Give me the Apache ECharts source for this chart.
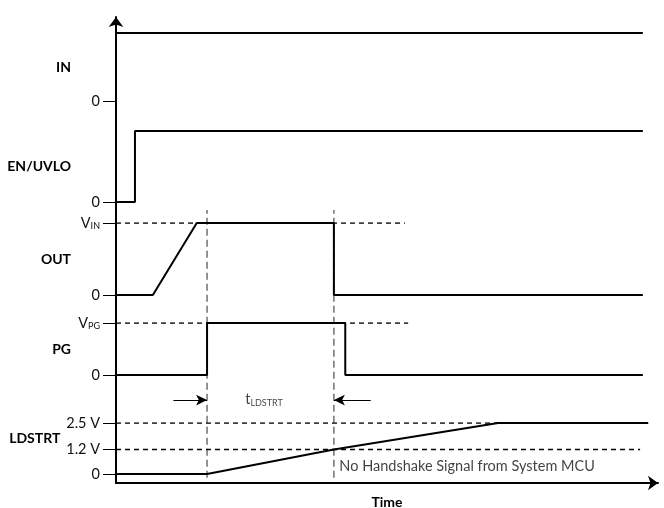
<!DOCTYPE html>
<html>
<head>
<meta charset="utf-8">
<script src="https://cdn.jsdelivr.net/npm/echarts@6/dist/echarts.min.js"></script>
<style>html,body{margin:0;padding:0;background:#fff}#chart{width:664px;height:508px}</style>
</head>
<body>
<div id="chart"></div>
<script>
// time in arbitrary units, 0..100 across the plot
const timeMax = 100;

// signal waveforms (time, level)
const inTime = [0, 97.2];
const inLevel = [1, 1];
const enTime = [0, 3.5, 3.5, 97.2];
const enLevel = [0, 0, 1, 1];
const outTime = [0, 6.8, 14.9, 40.2, 40.2, 97.2];
const outLevel = [0, 0, 1, 1, 0, 0];
const pgTime = [0, 16.8, 16.8, 42.3, 42.3, 97.2];
const pgLevel = [0, 0, 1, 1, 0, 0];
const ldTime = [0, 16.8, 40.2, 70.5, 98.2];
const ldVolts = [0, 0, 1.2, 2.5, 2.5];

// dashed reference levels: [level, end time]
const outRef = [[1, 53.3]];
const pgRef = [[1, 53.9]];
const ldRef = [[2.5, 70.5], [1.2, 96.7]];

// vertical guides (time) spanning the overview axis 0..100
const guideTimes = [16.8, 40.2];
const guideSpan = [1.1, 58.6];

// t_LDSTRT arrows: [from, to] in time, at overview height
const arrowY = 17.8;
const arrows = [[10.6, 16.8], [47.0, 40.2]];

const names = ['IN', 'EN/UVLO', 'OUT', 'PG', 'LDSTRT'];

const pair = (xs, ys) => xs.map((x, i) => [x, ys[i]]);
const font = 'Lato';

const panelGrids = [
  {top: 33, bottom: 407},
  {top: 131, bottom: 306},
  {top: 223, bottom: 213},
  {top: 323, bottom: 133},
  {top: 423, bottom: 34}
];

const tickSets = [[0], [0], [0, 1], [0, 1], [0, 1.2, 2.5]];
const tickText = [
  v => '0',
  v => '0',
  v => v === 1 ? 'V{s|IN}' : '0',
  v => v === 1 ? 'V{s|PG}' : '0',
  v => v === 0 ? '0' : v.toFixed(1) + ' V'
];
const yMax = [1, 1, 1, 1, 2.5];

let grid = [{left: 116, right: 6, top: 17, bottom: 25, outerBoundsMode: 'none'}];
let xAxis = [{
  type: 'value', gridIndex: 0, min: 0, max: timeMax,
  axisLine: {show: true, lineStyle: {color: '#000', width: 2}, symbol: ['none', 'arrow'], symbolSize: [11, 10]},
  axisTick: {show: false}, axisLabel: {show: false}, splitLine: {show: false},
  name: 'Time', nameLocation: 'middle', nameGap: 12,
  nameTextStyle: {fontFamily: font, fontWeight: 'bold', fontSize: 14, color: '#000'}
}];
let yAxis = [{
  type: 'value', gridIndex: 0, min: 0, max: 100,
  axisLine: {show: true, lineStyle: {color: '#000', width: 2}, symbol: ['none', 'arrow'], symbolSize: [11, 10]},
  axisTick: {show: false}, axisLabel: {show: false}, splitLine: {show: false}
}];

names.forEach((n, i) => {
  const g = i + 1;
  grid.push({left: 116, right: 6, top: panelGrids[i].top, bottom: panelGrids[i].bottom, outerBoundsMode: 'none'});
  xAxis.push({type: 'value', gridIndex: g, min: 0, max: timeMax, show: false});
  yAxis.push({
    type: 'value', gridIndex: g, min: 0, max: yMax[i],
    axisLine: {show: false},
    axisTick: {show: true, customValues: tickSets[i], length: 13, lineStyle: {color: '#000', width: 1}},
    axisLabel: {
      show: true, customValues: tickSets[i], margin: 16,
      formatter: tickText[i],
      fontFamily: font, fontSize: 14.5, color: '#111',
      rich: {s: {fontFamily: font, fontSize: 9, color: '#111', padding: [7, 0, 0, 0]}}
    },
    splitLine: {show: false},
    name: n, nameLocation: 'middle', nameRotate: 0, nameGap: 45,
    nameTextStyle: i === 4
      ? {fontFamily: font, fontWeight: 'bold', fontSize: 14, color: '#000', align: 'right', verticalAlign: 'bottom', lineHeight: 20}
      : {fontFamily: font, fontWeight: 'bold', fontSize: 14, color: '#000', align: 'right'}
  });
});

const solid = (g, data) => ({
  type: 'line', xAxisIndex: g, yAxisIndex: g, data, symbol: 'none', z: 3,
  lineStyle: {color: '#000', width: 2}, silent: true
});
const dashed = (g, level, end) => ({
  type: 'line', xAxisIndex: g, yAxisIndex: g, data: [[0, level], [end, level]], symbol: 'none', z: 2,
  lineStyle: {color: '#000', width: 1.4, type: [5, 4]}, silent: true
});

let series = [];
guideTimes.forEach(t => series.push({
  type: 'line', xAxisIndex: 0, yAxisIndex: 0, symbol: 'none', z: 1, silent: true,
  data: [[t, guideSpan[0]], [t, guideSpan[1]]],
  lineStyle: {color: '#707070', width: 1.5, type: [7, 4]}
}));
series.push({
  type: 'line', xAxisIndex: 0, yAxisIndex: 0, data: [], silent: true,
  markLine: {
    silent: true, symbol: ['none', 'arrow'], symbolSize: [8, 11],
    lineStyle: {color: '#000', width: 1.2, type: 'solid'}, label: {show: false},
    data: arrows.map(a => [{coord: [a[0], arrowY]}, {coord: [a[1], arrowY]}])
  }
});
series.push({
  type: 'scatter', xAxisIndex: 0, yAxisIndex: 0, symbolSize: 1, silent: true,
  itemStyle: {color: 'rgba(0,0,0,0)'},
  data: [
    {value: [27.4, arrowY], label: {formatter: 't{s|LDSTRT}', align: 'center'}},
    {value: [41.3, 3.4], label: {formatter: 'No Handshake Signal from System MCU', align: 'left'}}
  ],
  label: {
    show: true, position: [0, 0], verticalAlign: 'middle', fontFamily: font, fontSize: 14.5, color: '#111',
    rich: {s: {fontFamily: font, fontSize: 9, color: '#111', padding: [7, 0, 0, 0]}}
  }
});

series.push(solid(1, pair(inTime, inLevel)));
series.push(solid(2, pair(enTime, enLevel)));
outRef.forEach(r => series.push(dashed(3, r[0], r[1])));
series.push(solid(3, pair(outTime, outLevel)));
pgRef.forEach(r => series.push(dashed(4, r[0], r[1])));
series.push(solid(4, pair(pgTime, pgLevel)));
ldRef.forEach(r => series.push(dashed(5, r[0], r[1])));
series.push(solid(5, pair(ldTime, ldVolts)));

const chart = echarts.init(document.getElementById('chart'));
chart.setOption({
  animation: false,
  backgroundColor: '#fff',
  grid, xAxis, yAxis, series
});
</script>
</body>
</html>
